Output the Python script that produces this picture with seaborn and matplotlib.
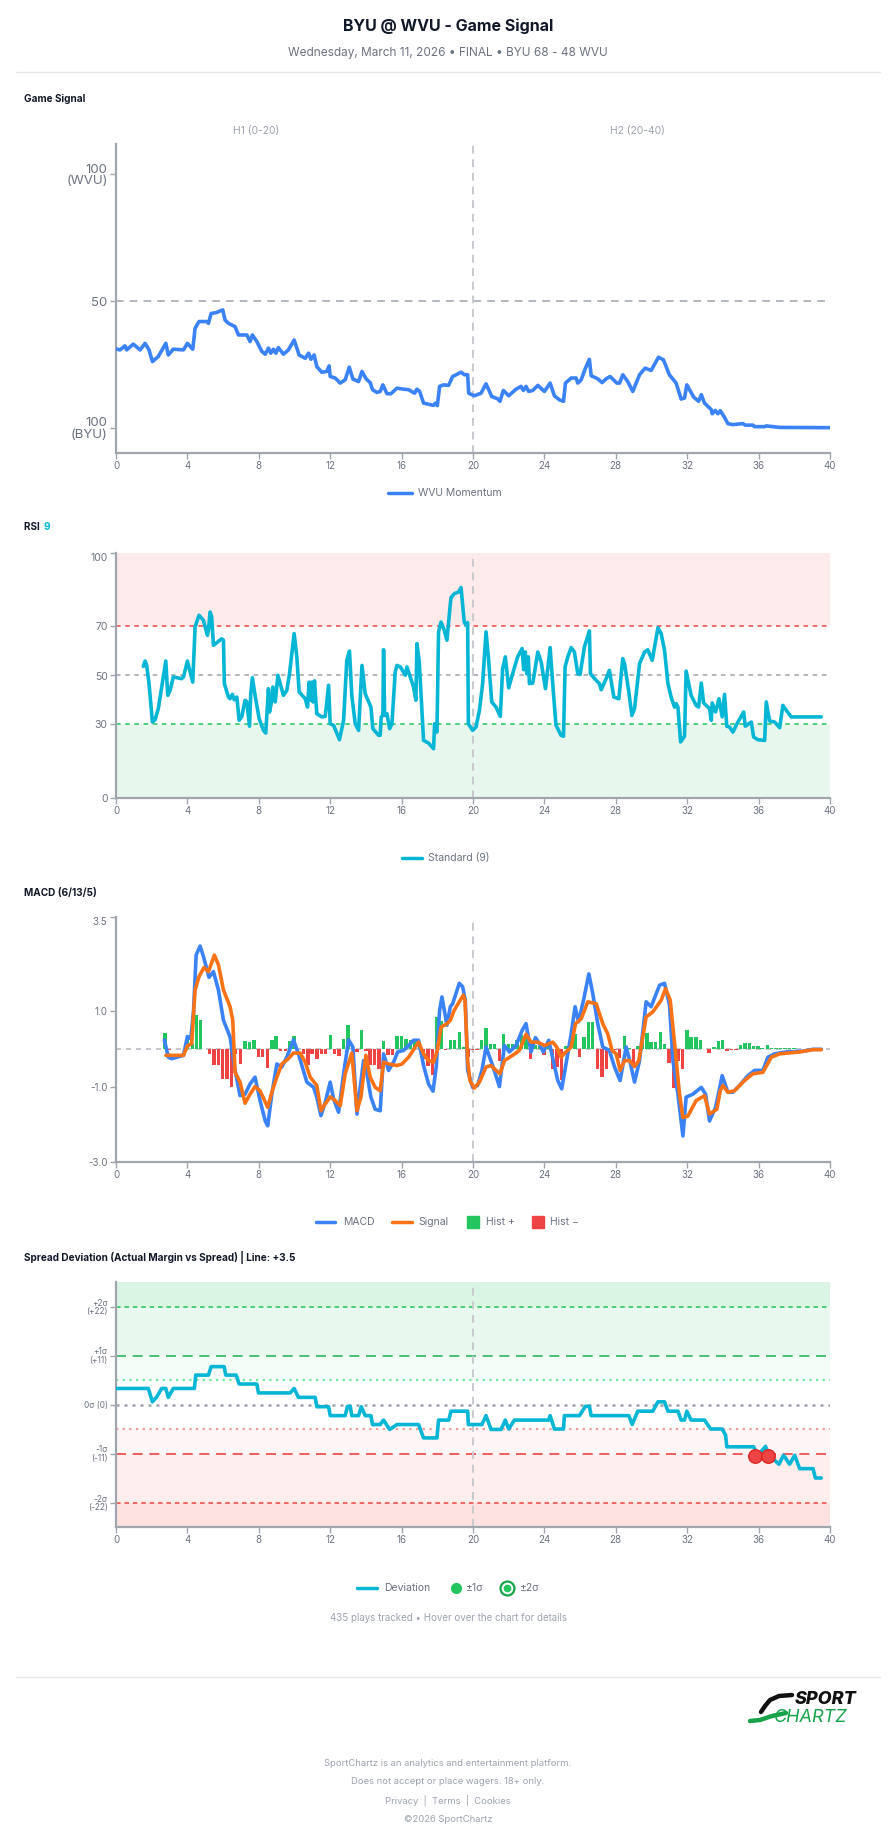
import matplotlib
matplotlib.use('Agg')
import matplotlib.pyplot as plt
from matplotlib.lines import Line2D
from matplotlib.patches import Rectangle
import seaborn as sns

# ---- data ----
mom_t = [0, 0.22, 0.5, 0.6, 0.97, 1.35, 1.63, 1.85, 2.04, 2.37,
         2.79, 2.93, 3.21, 3.78, 4.0, 4.3, 4.43, 4.65, 5.08, 5.18,
         5.33, 5.6, 5.98, 6.11, 6.3, 6.67, 6.86, 7.33, 7.51, 7.64,
         7.89, 8.17, 8.36, 8.54, 8.67, 8.82, 8.95, 9.1, 9.38, 9.66,
         9.98, 10.26, 10.6, 10.79, 10.92, 11.1, 11.25, 11.53, 11.81, 11.94,
         12.0, 12.28, 12.56, 12.84, 13.07, 13.27, 13.59, 13.78, 14.02, 14.24,
         14.37, 14.62, 14.8, 14.95, 15.18, 15.4, 15.74, 16.11, 16.39, 16.73,
         16.86, 17.01, 17.23, 17.79, 17.89, 18.0, 18.13, 18.35, 18.63, 18.86,
         19.33, 19.51, 19.7, 19.76, 20.07, 20.45, 20.73, 21.05, 21.38, 21.51,
         21.7, 22.0, 22.41, 22.69, 22.82, 22.97, 23.12, 23.35, 23.63, 24.0,
         24.32, 24.56, 24.84, 25.07, 25.18, 25.5, 25.78, 25.87, 26.06, 26.3,
         26.52, 26.62, 26.99, 27.23, 27.46, 27.68, 28.06, 28.21, 28.39, 28.67,
         28.95, 29.33, 29.64, 29.98, 30.39, 30.67, 31.0, 31.38, 31.66, 31.85,
         31.98, 32.36, 32.64, 32.79, 32.97, 33.35, 33.4, 33.57, 33.72, 33.85,
         34.09, 34.28, 34.56, 35.12, 35.25, 35.68, 35.78, 36.34, 36.43, 37.18,
         39.98]
mom_v = [31.1, 30.7, 32.3, 30.7, 33.0, 30.7, 33.3, 30.7, 26.1, 28.1,
         33.3, 28.7, 31.0, 30.7, 33.3, 31.0, 39.2, 41.9, 41.9, 41.2,
         45.1, 45.4, 46.5, 42.5, 41.2, 39.9, 36.6, 36.6, 34.0, 36.6,
         34.0, 30.1, 29.0, 31.4, 29.4, 31.0, 29.4, 31.6, 29.0, 30.7,
         34.6, 28.7, 27.4, 29.4, 27.0, 28.7, 24.1, 21.9, 22.2, 24.4,
         20.2, 19.6, 17.6, 18.9, 23.9, 19.2, 18.2, 22.2, 19.2, 17.8,
         15.0, 13.9, 14.3, 16.9, 13.4, 13.4, 15.6, 15.2, 15.0, 13.6,
         15.2, 14.3, 9.7, 8.8, 9.7, 8.7, 16.3, 16.9, 16.7, 20.2,
         21.9, 20.9, 20.9, 13.6, 12.6, 13.6, 17.3, 12.3, 11.4, 10.4,
         14.7, 12.6, 15.2, 16.3, 14.7, 16.3, 14.3, 14.7, 16.7, 14.3,
         17.6, 12.6, 11.0, 10.4, 17.6, 19.6, 19.6, 17.6, 18.9, 23.5,
         27.0, 20.5, 19.3, 17.8, 19.3, 20.2, 17.6, 17.6, 20.9, 18.2,
         14.3, 20.9, 23.5, 22.6, 27.8, 26.8, 20.9, 17.6, 11.3, 11.7,
         16.9, 12.1, 10.4, 13.0, 9.7, 7.1, 5.5, 6.8, 5.5, 6.7,
         4.1, 1.6, 1.2, 1.6, 1.0, 1.0, 0.4, 0.4, 0.7, 0.1,
         0.0]

rsi_t = [1.53, 1.63, 1.72, 1.85, 2.04, 2.19, 2.37, 2.79, 2.9, 3.03,
         3.21, 3.68, 3.78, 4.0, 4.3, 4.43, 4.65, 4.9, 5.12, 5.18,
         5.27, 5.36, 5.46, 5.92, 6.02, 6.07, 6.3, 6.39, 6.52, 6.62,
         6.77, 6.9, 7.05, 7.23, 7.33, 7.48, 7.55, 7.64, 7.79, 8.02,
         8.26, 8.39, 8.54, 8.6, 8.73, 8.79, 8.92, 9.07, 9.38, 9.57,
         9.72, 9.98, 10.13, 10.26, 10.6, 10.73, 10.82, 10.92, 10.97, 11.03,
         11.12, 11.25, 11.53, 11.72, 11.91, 12.0, 12.19, 12.52, 12.75, 12.93,
         13.08, 13.21, 13.4, 13.59, 13.78, 13.96, 14.28, 14.39, 14.71, 14.8,
         14.86, 14.95, 14.99, 15.05, 15.18, 15.33, 15.46, 15.64, 15.74, 15.93,
         16.21, 16.3, 16.67, 16.8, 16.86, 16.99, 17.23, 17.51, 17.79, 17.85,
         17.98, 18.07, 18.21, 18.36, 18.54, 18.73,
         18.77, 18.95, 19.2, 19.33, 19.51, 19.61, 19.7, 19.74, 19.98, 20.17,
         20.36, 20.54, 20.73, 20.86, 21.05, 21.29, 21.53, 21.66, 21.81, 22.0,
         22.22, 22.5, 22.75, 22.84, 22.93, 23.01, 23.1, 23.16, 23.35, 23.63,
         23.82, 24.06, 24.32, 24.5, 24.65, 24.93, 25.07, 25.16, 25.31, 25.5,
         25.68, 25.87, 26.0, 26.24, 26.52, 26.58, 26.9, 27.08, 27.18, 27.46,
         27.64, 27.89, 28.17, 28.39, 28.49, 28.73, 28.9, 29.05, 29.33, 29.61,
         29.79, 30.04, 30.36, 30.54, 30.73, 30.92, 31.1, 31.29, 31.38, 31.48,
         31.63, 31.85, 31.94, 32.22, 32.5, 32.64, 32.79, 32.92, 33.25, 33.35,
         33.4, 33.59, 33.78, 33.96, 34.09, 34.22, 34.37, 34.56, 34.84, 35.16,
         35.25, 35.59, 35.72, 35.96, 36.34, 36.43, 36.62, 36.9, 37.18, 37.36,
         37.55, 37.83, 39.51]
rsi_v = [53.7, 55.9, 54.1, 46.7, 31.0, 32.0, 36.5, 55.9, 41.9, 43.9,
         49.4, 48.7, 49.4, 55.9, 47.3, 69.8, 74.6, 72.5, 66.4, 68.4,
         75.9, 73.9, 62.3, 65.0, 64.4, 46.7, 41.2, 40.5, 42.3, 40.1,
         41.2, 31.7, 33.3, 39.9, 39.2, 29.3, 42.6, 49.1, 41.9, 32.4,
         27.6, 26.5, 44.6, 35.1, 39.9, 45.3, 39.2, 50.1, 41.9, 43.9,
         50.7, 67.1, 57.6, 43.3, 40.5, 37.1, 47.3, 39.9, 47.3, 39.2,
         47.8, 34.4, 33.1, 33.3, 46.0, 30.3, 29.7, 23.8, 31.7, 56.2,
         60.0, 41.9, 30.3, 27.6, 54.1, 42.6, 37.1, 28.3, 25.6, 25.6,
         33.1, 33.7, 60.5, 33.7, 34.4, 28.3, 30.3, 51.4, 54.1, 53.5,
         50.1, 53.5, 45.3, 39.9, 63.0, 55.5, 23.5, 22.4, 20.1, 30.3,
         26.9, 67.8, 71.8, 69.1, 64.4, 79.3,
         81.8, 83.4, 84.1, 85.9, 71.8, 70.5, 71.6, 30.3, 27.6, 29.0,
         35.8, 46.7, 67.8, 57.6, 39.2, 37.1, 33.3, 52.8, 57.6, 45.0,
         50.7, 57.6, 61.0, 52.4, 59.6, 50.7, 57.6, 46.7, 46.9, 59.6,
         55.5, 44.6, 61.4, 43.3, 29.7, 25.6, 25.2, 53.5, 57.6, 61.4,
         59.6, 50.7, 50.4, 61.6, 68.2, 50.7, 48.0, 46.7, 44.2, 48.7,
         52.1, 41.2, 40.5, 56.9, 54.8, 43.3, 33.7, 36.5, 54.8, 59.6,
         60.5, 56.2, 69.5, 67.1, 60.3, 46.7, 41.2, 37.1, 38.5, 37.1,
         22.9, 25.2, 51.8, 41.9, 37.8, 37.1, 46.9, 38.8, 36.5, 31.7,
         38.8, 35.1, 40.5, 33.1, 42.3, 29.3, 29.0, 26.9, 31.0, 35.1,
         29.3, 31.0, 24.9, 23.8, 23.5, 39.2, 31.4, 31.0, 28.7, 37.8,
         35.8, 33.1, 33.1]

macd_t = [2.71, 2.93, 3.12, 3.78, 4.0, 4.19, 4.34, 4.49, 4.71, 4.9,
          5.21, 5.46, 5.74, 6.02, 6.39, 6.67, 6.95, 7.23, 7.51, 7.79,
          8.07, 8.36, 8.5, 8.73, 9.01, 9.29, 9.57, 9.94, 10.22, 10.69,
          11.07, 11.25, 11.48, 11.72, 12.0, 12.19, 12.47, 12.75, 13.03, 13.27,
          13.5, 13.68, 13.87, 14.06, 14.28, 14.52, 14.8, 14.99, 15.27, 15.55,
          15.78, 16.11, 16.39, 16.67, 16.95, 17.23, 17.51, 17.76, 17.94, 18.13,
          18.26, 18.54, 18.73,
          18.86, 19.23, 19.42, 19.57, 19.7, 19.98, 20.26, 20.5, 20.73, 21.1,
          21.48, 21.76, 22.04, 22.41, 22.75, 22.97, 23.25, 23.5, 23.72, 23.94,
          24.24, 24.5, 24.75, 24.97, 25.21, 25.5, 25.72, 25.91, 26.19, 26.49,
          26.71, 26.99, 27.27, 27.64, 27.93, 28.24, 28.58, 28.8, 29.05, 29.33,
          29.7, 29.98, 30.45, 30.73, 31.01, 31.2, 31.48, 31.76, 31.94, 32.32,
          32.79, 33.03, 33.25, 33.59, 33.96, 34.28, 34.56, 34.93, 35.4, 35.78,
          36.24, 36.52, 36.9, 37.55, 38.49, 39.05, 39.51]
macd_v = [0.24, -0.22, -0.26, -0.17, 0.33, 0.27, 0.98, 2.49, 2.73, 2.45,
          1.9, 2.05, 1.56, 0.76, 0.32, -0.57, -1.24, -1.2, -0.93, -0.75,
          -1.37, -1.91, -2.04, -1.2, -0.4, -0.48, -0.22, 0.24, -0.13, -0.88,
          -1.02, -1.28, -1.77, -1.42, -0.88, -1.33, -1.68, -0.66, 0.24, 0.05,
          -1.73, -1.02, -0.31, -0.66, -1.28, -1.6, -1.64, -0.13, -0.57, -0.35,
          -0.08, -0.04, 0.09, 0.23, 0.23, -0.44, -0.93, -1.12, -0.48, 1.03,
          1.38, 0.63, 1.12,
          1.2, 1.74, 1.65, 1.29, -0.57, -1.02, -0.97, -0.57, 0.05, -0.44,
          -1.0, 0.09, -0.08, 0.09, 0.49, 0.67, -0.08, 0.3, 0.14, -0.08,
          0.23, -0.31, -0.84, -1.06, -0.4, 0.4, 1.12, 0.72, 1.29, 1.99,
          1.47, 0.67, 0.05, -0.04, -0.48, -0.84, 0.05, -0.35, -0.88, -0.31,
          1.25, 1.12, 1.69, 1.74, 1.16, -0.31, -1.2, -2.31, -1.28, -1.2,
          -1.02, -1.2, -1.91, -1.55, -0.71, -1.15, -1.15, -0.97, -0.71, -0.57,
          -0.57, -0.22, -0.13, -0.08, -0.06, -0.01, -0.01]

signal_t = [2.8, 3.78, 4.0, 4.24, 4.43, 4.65, 4.93, 5.18, 5.51, 5.74,
            6.02, 6.39, 6.54, 6.67, 6.95, 7.23, 7.51, 7.79, 8.07, 8.5,
            8.73, 9.01, 9.29, 9.66, 9.94, 10.32, 10.6, 10.88, 11.25, 11.48,
            11.72, 12.0, 12.28, 12.56, 12.84, 13.21, 13.5, 13.72, 14.0, 14.24,
            14.52, 14.8, 14.99, 15.27, 15.74, 16.02, 16.39, 16.95, 17.23, 17.51,
            17.79, 18.0, 18.21, 18.54, 18.73,
            18.95, 19.46, 19.55, 19.7, 19.83, 20.07, 20.36, 20.73, 21.01, 21.29,
            21.51, 21.76, 22.22, 22.6, 22.97, 23.25, 23.63, 24.0, 24.47, 24.69,
            24.93, 25.21, 25.5, 25.74, 26.06, 26.43, 26.9, 27.27, 27.55, 27.79,
            28.02, 28.24, 28.49, 28.77, 29.05, 29.29, 29.7, 30.07, 30.54, 30.79,
            31.05, 31.35, 31.57, 31.76, 32.04, 32.5, 32.97, 33.25, 33.66, 33.85,
            34.0, 34.28, 34.65, 35.21, 35.68, 36.24, 36.71, 37.18, 38.3, 39.05,
            39.51]
signal_v = [-0.17, -0.17, 0.08, 0.14, 1.56, 1.92, 2.16, 2.05, 2.49, 2.23,
            1.56, 1.12, 0.76, -0.62, -0.88, -1.44, -1.2, -1.0, -1.11, -1.55,
            -1.15, -0.75, -0.4, -0.26, -0.11, -0.11, -0.35, -0.75, -0.97, -1.64,
            -1.46, -1.27, -1.37, -1.51, -0.66, -0.11, -1.64, -1.28, -0.17, -0.75,
            -1.02, -1.11, -0.35, -0.4, -0.44, -0.4, -0.22, 0.18, -0.13, -0.31,
            -0.35, -0.04, 0.58, 0.67, 0.76,
            1.03, 1.43, 1.29, -0.31, -0.84, -1.04, -0.88, -0.48, -0.44, -0.57,
            -0.66, -0.31, -0.17, -0.04, 0.39, 0.18, 0.18, 0.09, 0.18, 0.05,
            -0.22, -0.08, 0.05, 0.67, 0.8, 1.25, 1.2, 0.67, 0.4, -0.04,
            -0.13, -0.57, -0.31, -0.31, -0.47, -0.31, 0.85, 0.98, 1.29, 1.6,
            1.29, -0.13, -1.2, -1.82, -1.78, -1.37, -1.24, -1.73, -1.6, -1.11,
            -0.97, -1.15, -1.11, -0.84, -0.66, -0.62, -0.22, -0.13, -0.08, -0.02,
            -0.02]

hist_t = [2.75, 2.97, 4.0, 4.28, 4.52, 4.75, 5.25, 5.5, 5.74, 5.98,
          6.22, 6.47, 6.71, 6.99, 7.23, 7.48, 7.74, 7.98, 8.22, 8.49,
          8.73, 8.97, 9.23, 9.48, 9.72, 9.98, 10.49, 10.75, 10.99, 11.25,
          11.5, 11.74, 12.0, 12.24, 12.5, 12.75, 12.99, 13.25, 13.5, 13.74,
          14.0, 14.24, 14.49, 14.73, 14.99, 15.23, 15.48, 15.74, 15.98, 16.24,
          16.49, 16.73, 16.99, 17.23, 17.48, 17.72, 17.96, 18.22, 18.47, 18.73,
          18.97, 19.23, 19.46, 19.74, 19.98, 20.22, 20.49, 20.73, 20.97, 21.21,
          21.48, 21.72, 21.98, 22.22, 22.47, 22.73, 22.97, 23.23, 23.48, 23.72,
          23.98, 24.22, 24.47, 24.71, 24.97, 25.21, 25.46, 25.72, 25.96, 26.21,
          26.47, 26.71, 26.99, 27.23, 27.48, 27.74, 27.98, 28.22, 28.49, 28.73,
          28.99, 29.23, 29.48, 29.74, 29.98, 30.22, 30.49, 30.73, 30.99, 31.23,
          31.48, 31.74, 31.98, 32.22, 32.49, 32.73, 33.23, 33.5, 33.74, 33.98,
          34.24, 34.49, 34.73, 34.99, 35.23, 35.48, 35.72, 35.96, 36.2, 36.49,
          36.73, 36.98, 37.23, 37.48, 37.73, 37.98, 38.23, 38.48, 38.73, 38.98]
hist_v = [0.42, -0.04, 0.33, 0.13, 0.91, 0.76, -0.13, -0.42, -0.42, -0.81,
          -0.81, -1.02, -0.13, -0.40, 0.20, 0.18, 0.24, -0.22, -0.22, -0.50,
          0.24, 0.33, -0.06, -0.06, 0.20, 0.33, -0.13, -0.42, -0.13, -0.26,
          -0.13, -0.13, 0.36, -0.13, -0.20, 0.27, 0.64, 0.07, -0.09, 0.51,
          -0.06, -0.42, -0.42, -0.53, 0.20, -0.15, -0.15, 0.34, 0.34, 0.26,
          0.24, 0.24, 0.09, -0.26, -0.46, -0.69, 0.85, 0.73, -0.03, 0.25,
          0.25, 0.46, 0.05, -0.22, -0.02, -0.02, 0.23, 0.56, 0.14, 0.14,
          -0.31, 0.40, 0.14, 0.14, 0.24, 0.38, 0.38, -0.26, 0.10, 0.07,
          -0.15, 0.16, -0.53, -0.48, -0.82, 0.07, 0.27, 0.40, -0.22, 0.31,
          0.71, 0.71, -0.53, -0.75, -0.53, 0.02, -0.03, -0.24, 0.34, 0.03,
          -0.40, 0.09, 0.20, 0.43, 0.18, 0.18, 0.44, 0.13, -0.38, -1.04,
          -0.31, -0.52, 0.49, 0.31, 0.31, 0.25, -0.12, 0.06, 0.20, 0.24,
          -0.05, -0.03, -0.02, 0.10, 0.16, 0.16, 0.09, 0.09, 0.02, 0.10,
          0.02, 0.02, 0.02, 0.02, 0.015, 0.015, 0.01, 0.01, 0.01, 0.01]

dev_t = [0, 1.81, 2.04, 2.28, 2.56, 2.79, 2.93, 3.21, 4.39, 4.47,
         5.18, 5.33, 6.06, 6.15, 6.73, 6.9, 7.89, 7.98, 9.76, 9.98,
         10.22, 11.16, 11.25, 11.91, 12.0, 12.84, 12.97, 13.12, 13.21, 13.59,
         13.74, 13.96, 14.28, 14.37, 14.8, 14.99, 15.33, 15.74, 16.95, 17.23,
         17.98, 18.07, 18.64, 18.77, 19.7, 19.74, 20.5, 20.73, 21.01, 21.57,
         21.81, 22.0, 22.32, 24.24, 24.32, 24.56, 25.07, 25.12, 25.96, 26.3,
         26.52, 26.62, 28.73, 28.92, 29.23, 30.07, 30.36, 30.73, 30.92, 31.48,
         31.66, 31.85, 31.98, 32.22, 32.97, 33.31, 33.96, 34.15, 34.22, 35.72,
         35.96, 36.39, 36.58, 37.14, 37.4, 37.74, 38.02, 38.3, 39.05, 39.18,
         39.51]
dev_v = [3.6, 3.6, 0.6, 1.7, 3.6, 3.6, 1.6, 3.6, 3.6, 6.6,
         6.6, 8.5, 8.5, 6.6, 6.6, 4.6, 4.6, 2.6, 2.6, 3.6,
         1.6, 1.6, -0.5, -0.5, -2.5, -2.5, -0.4, -0.4, -2.5, -2.5,
         -0.5, -2.5, -2.5, -4.5, -4.5, -3.5, -5.6, -4.5, -4.5, -7.5,
         -7.5, -3.5, -3.5, -1.5, -1.5, -4.5, -4.5, -2.5, -5.6, -5.6,
         -3.5, -5.5, -3.5, -3.5, -2.5, -5.5, -5.5, -2.5, -2.5, -0.4,
         -0.4, -2.5, -2.5, -4.5, -1.5, -1.5, 0.6, 0.6, -1.5, -1.5,
         -3.5, -3.5, -1.5, -3.5, -3.5, -5.5, -5.5, -6.9, -9.5, -9.5,
         -11.4, -9.4, -11.4, -13.4, -11.4, -13.4, -11.4, -14.4, -14.4, -16.5,
         -16.5]
flag_t = [35.78, 36.54]
flag_v = [-11.5, -11.5]

sigma_levels = [22, 11, 0, -11, -22]
sigma_labels = ['+2σ\n(+22)', '+1σ\n(+11)', '0σ (0)', '-1σ\n(-11)', '-2σ\n(-22)']
x_ticks = list(range(0, 41, 4))

# ---- style ----
sns.set_theme(style='white')
plt.rcParams['font.family'] = ['Inter', 'DejaVu Sans']

BLUE = '#3b82f6'
CYAN = '#06b6d4'
ORANGE = '#f97316'
GREEN = '#22c55e'
RED = '#ef4444'
AXIS = '#a1a5ad'
TICK = '#6b7280'
LIGHT = '#9ca3af'

W, H = 896, 1845
fig = plt.figure(figsize=(W / 100, H / 100), dpi=100)
fig.patch.set_facecolor('white')


def rect(x0, y0, x1, y1):
    return [x0 / W, 1 - y1 / H, (x1 - x0) / W, (y1 - y0) / H]


def ftext(x, y, s, **kw):
    kw.setdefault('va', 'center')
    fig.text(x / W, 1 - y / H, s, **kw)


def fline(xs, ys, **kw):
    fig.add_artist(Line2D([x / W for x in xs], [1 - y / H for y in ys],
                          transform=fig.transFigure, **kw))


def base_axes(ax):
    sns.despine(ax=ax)
    for side in ['left', 'bottom']:
        ax.spines[side].set_color(AXIS)
        ax.spines[side].set_linewidth(1.6)
    ax.set_xlim(0, 40)
    ax.set_xticks(x_ticks)
    ax.tick_params(axis='both', bottom=True, left=True, colors=AXIS, labelcolor=TICK,
                   labelsize=7, length=4, width=1, pad=2)
    ax.axvline(20, color='#c8c9ce', lw=1.4, ls=(0, (4, 3)), zorder=2)
    ax.set_facecolor('white')


# ---- header ----
ftext(448, 26, 'BYU @ WVU - Game Signal', ha='center', fontsize=11.5, fontweight='bold', color='#111827')
ftext(448, 53, 'Wednesday, March 11, 2026 • FINAL • BYU 68 - 48 WVU', ha='center', fontsize=8.5, color=TICK)
fline([16, 880], [72, 72], color='#e5e7eb', lw=1)

# ---- panel 1: game signal ----
ftext(24, 99, 'Game Signal', fontsize=7.2, fontweight='bold', color='#111827')
ftext(256, 131, 'H1 (0-20)', ha='center', fontsize=7.5, color=LIGHT)
ftext(637, 131, 'H2 (20-40)', ha='center', fontsize=7.5, color=LIGHT)
ax1 = fig.add_axes(rect(116, 144, 830, 453))
base_axes(ax1)
ax1.axhline(50, color=LIGHT, lw=1.1, ls=(0, (5, 4)), zorder=1)
sns.lineplot(x=mom_t, y=mom_v, ax=ax1, color=BLUE, lw=2.6, estimator=None, sort=False, legend=False, zorder=3)
ax1.set_ylim(-10, 112)
ax1.set_yticks([0, 50, 100])
ax1.set_yticklabels(['100\n(BYU)', '50', '100\n(WVU)'], fontsize=9.5, linespacing=0.95)
fline([388, 412], [493, 493], color=BLUE, lw=2.5)
ftext(418, 493, 'WVU Momentum', fontsize=7.5, color=TICK)

# ---- panel 2: RSI ----
ftext(24, 527, 'RSI ', fontsize=7.2, fontweight='bold', color='#111827')
ftext(43, 527, '9', fontsize=7.2, fontweight='bold', color=CYAN)
ax2 = fig.add_axes(rect(116, 553, 830, 798))
base_axes(ax2)
ax2.axhspan(70, 100, color='#fdeaea', zorder=0, lw=0)
ax2.axhspan(0, 30, color='#e8f7ed', zorder=0, lw=0)
ax2.axhline(70, color=RED, lw=1.1, ls=(0, (3, 3)), zorder=1)
ax2.axhline(50, color=LIGHT, lw=1.1, ls=(0, (3, 3)), zorder=1)
ax2.axhline(30, color=GREEN, lw=1.1, ls=(0, (3, 3)), zorder=1)
sns.lineplot(x=rsi_t, y=rsi_v, ax=ax2, color=CYAN, lw=2.6, estimator=None, sort=False, legend=False, zorder=3)
ax2.set_ylim(0, 100)
ax2.set_yticks([0, 30, 50, 70, 100])
ax2.tick_params(axis='y', labelsize=7.5)
ax2.get_yticklabels()[-1].set_va('top')
fline([402, 422], [858, 858], color=CYAN, lw=2.5)
ftext(428, 858, 'Standard (9)', fontsize=7.5, color=TICK)

# ---- panel 3: MACD ----
ftext(24, 893, 'MACD (6/13/5)', fontsize=7.2, fontweight='bold', color='#111827')
ax3 = fig.add_axes(rect(116, 917, 830, 1162))
base_axes(ax3)
ax3.axhline(0, color='#b9bcc3', lw=1.2, ls=(0, (3, 3)), zorder=1)
bar_colors = [GREEN if v >= 0 else RED for v in hist_v]
ax3.bar(hist_t, hist_v, width=0.19, color=bar_colors, zorder=2, lw=0)
sns.lineplot(x=macd_t, y=macd_v, ax=ax3, color=BLUE, lw=2.6, estimator=None, sort=False, legend=False, zorder=3)
sns.lineplot(x=signal_t, y=signal_v, ax=ax3, color=ORANGE, lw=2.6, estimator=None, sort=False, legend=False, zorder=4)
ax3.set_ylim(-3.0, 3.5)
ax3.set_yticks([-3.0, -1.0, 1.0, 3.5])
ax3.set_yticklabels(['-3.0', '-1.0', '1.0', '3.5'])
ax3.get_yticklabels()[-1].set_va('top')
fline([316, 335], [1222, 1222], color=BLUE, lw=2.5)
ftext(343, 1222, 'MACD', fontsize=7.5, color=TICK)
fline([392, 412], [1222, 1222], color=ORANGE, lw=2.5)
ftext(418, 1222, 'Signal', fontsize=7.5, color=TICK)
fig.add_artist(Rectangle((467 / W, 1 - 1228 / H), 12 / W, 12 / H, transform=fig.transFigure, color=GREEN))
ftext(486, 1222, 'Hist +', fontsize=7.5, color=TICK)
fig.add_artist(Rectangle((532 / W, 1 - 1228 / H), 12 / W, 12 / H, transform=fig.transFigure, color=RED))
ftext(550, 1222, 'Hist −', fontsize=7.5, color=TICK)

# ---- panel 4: spread deviation ----
ftext(24, 1257, 'Spread Deviation (Actual Margin vs Spread) | Line: +3.5', fontsize=7.2,
      fontweight='bold', color='#111827')
ax4 = fig.add_axes(rect(116, 1282, 830, 1527))
base_axes(ax4)
bands = [(22, 27.5, '#dbf5e4'), (11, 22, '#e8f8ee'), (5.5, 11, '#f4fcf7'),
         (-11, -5.5, '#fef6f6'), (-22, -11, '#feeeee'), (-27.5, -22, '#fee2e2')]
for lo, hi, c in bands:
    ax4.axhspan(lo, hi, color=c, zorder=0, lw=0)
ax4.axhline(22, color=GREEN, lw=1.1, ls=(0, (3, 2.5)), zorder=1)
ax4.axhline(11, color='#2fb55f', lw=1.2, ls=(0, (6, 4)), zorder=1)
ax4.axhline(5.5, color='#6ee7a0', lw=1.6, ls=(0, (1, 2)), zorder=1)
ax4.axhline(0, color=LIGHT, lw=1.8, ls=(0, (1.2, 2)), zorder=1)
ax4.axhline(-5.5, color='#f59a9a', lw=1.6, ls=(0, (1, 2)), zorder=1)
ax4.axhline(-11, color=RED, lw=1.2, ls=(0, (6, 4)), zorder=1)
ax4.axhline(-22, color=RED, lw=1.1, ls=(0, (3, 2.5)), zorder=1)
sns.lineplot(x=dev_t, y=dev_v, ax=ax4, color=CYAN, lw=2.6, estimator=None, sort=False, legend=False, zorder=3)
sns.scatterplot(x=flag_t, y=flag_v, ax=ax4, s=95, color=RED, edgecolor='#dc2626', linewidth=1, zorder=4, legend=False)
ax4.set_ylim(-27.5, 27.5)
ax4.set_yticks(sigma_levels)
ax4.set_yticklabels(sigma_labels, fontsize=6, linespacing=0.9)
fline([357, 377], [1588, 1588], color=CYAN, lw=2.5)
ftext(384, 1588, 'Deviation', fontsize=7.5, color=TICK)
fline([456], [1588], marker='o', ms=7, color=GREEN, lw=0)
ftext(466, 1588, '±1σ', fontsize=7.5, color=TICK)
fline([507], [1588], marker='o', ms=10, mfc='white', mec='#16a34a', mew=1.6, lw=0)
fline([507], [1588], marker='o', ms=4.5, color=GREEN, lw=0)
ftext(520, 1588, '±2σ', fontsize=7.5, color=TICK)

ftext(448, 1618, '435 plays tracked • Hover over the chart for details', ha='center', fontsize=7, color=LIGHT)

# ---- footer ----
fline([16, 880], [1677, 1677], color='#e5e7eb', lw=1)
fline([792, 779, 770, 765, 761], [1695, 1696, 1700, 1706, 1712], color='#111111', lw=3.2, solid_capstyle='round')
fline([750, 760, 772, 786], [1721, 1720, 1716, 1713], color='#16a34a', lw=3.2, solid_capstyle='round')
ftext(826, 1700, 'SPORT', ha='center', fontsize=13, fontweight='heavy', style='italic', color='#111111')
ftext(811, 1717, 'CHARTZ', ha='center', fontsize=13, style='italic', color='#16a34a')
ftext(448, 1764, 'SportChartz is an analytics and entertainment platform.', ha='center', fontsize=6.8, color=LIGHT)
ftext(448, 1781, 'Does not accept or place wagers. 18+ only.', ha='center', fontsize=6.8, color=LIGHT)
ftext(448, 1800, 'Privacy  |  Terms  |  Cookies', ha='center', fontsize=6.8, color=LIGHT)
ftext(448, 1820, '©2026 SportChartz', ha='center', fontsize=6.8, color=LIGHT)

fig.savefig('out.png', dpi=100)
